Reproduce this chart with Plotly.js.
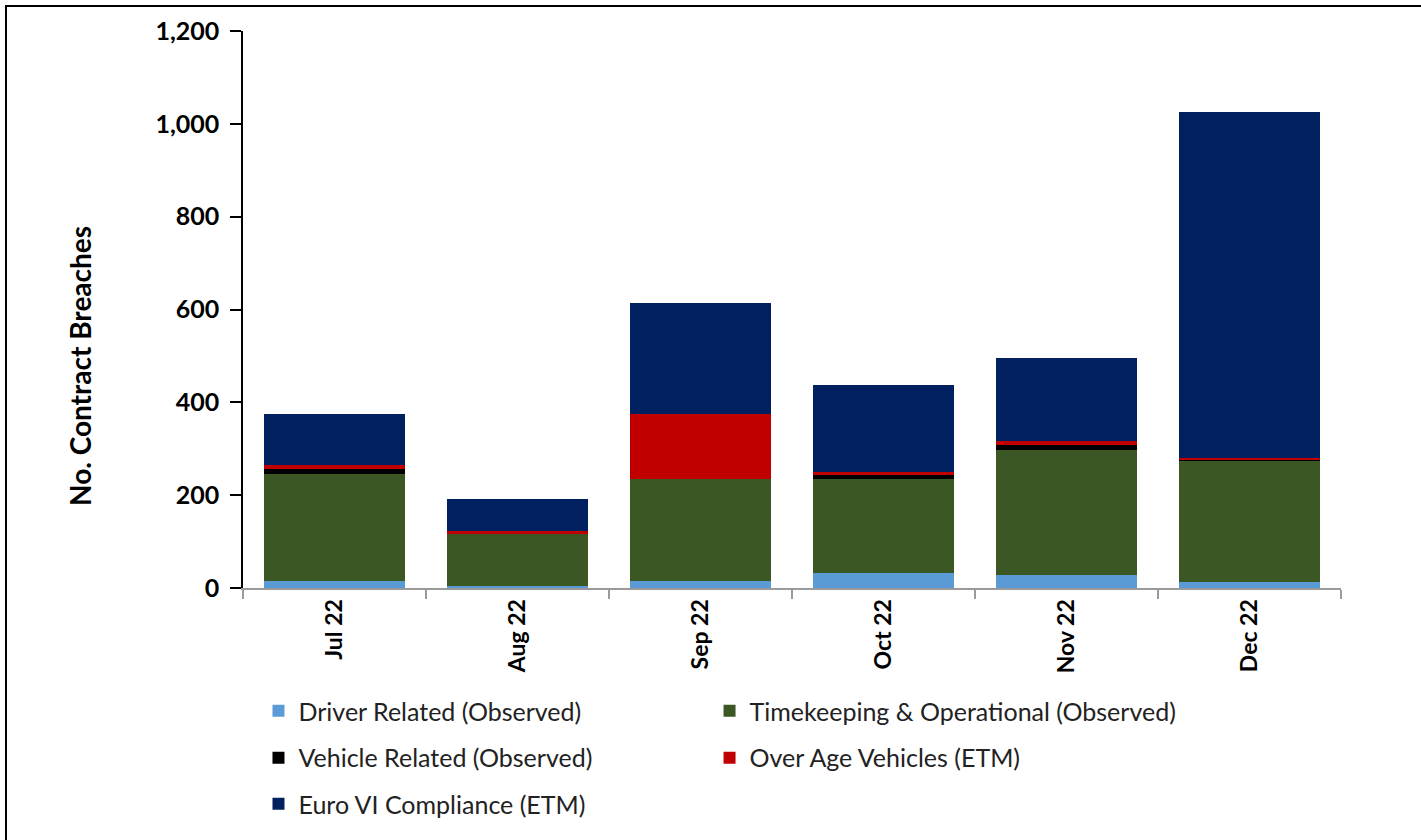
<!DOCTYPE html>
<html>
<head>
<meta charset="utf-8">
<script src="https://cdn.plot.ly/plotly-3.0.1.min.js"></script>
<style>
  html, body { margin: 0; padding: 0; background: #fff; }
  #chart { position: absolute; left: 0; top: 0; width: 1421px; height: 840px; }
  #frameTop { position: absolute; left: 5px; top: 5px; width: 1416px; height: 2px; background: #000; }
  #frameLeft { position: absolute; left: 5px; top: 5px; width: 2px; height: 835px; background: #000; }
</style>
</head>
<body>
<div id="chart"></div>
<div id="frameTop"></div>
<div id="frameLeft"></div>
<script>
const months = ["Jul 22", "Aug 22", "Sep 22", "Oct 22", "Nov 22", "Dec 22"];
const driverRelated = [15, 4, 16, 32, 27, 12];
const timekeeping = [230, 113, 218, 202, 270, 262];
const vehicleRelated = [11, 0, 0, 9, 11, 3];
const overAge = [9, 5, 140, 7, 8, 4];
const euroVI = [110, 70, 241, 188, 180, 745];

const seriesNames = [
  "Driver Related (Observed)",
  "Timekeeping & Operational (Observed)",
  "Vehicle Related (Observed)",
  "Over Age Vehicles (ETM)",
  "Euro VI Compliance (ETM)"
];
const seriesColors = ["#5B9BD5", "#3A5724", "#000000", "#C00000", "#002060"];
const seriesData = [driverRelated, timekeeping, vehicleRelated, overAge, euroVI];
const yTitle = "No. Contract Breaches";

const font = "Lato, 'Open Sans', sans-serif";

// legend grid: two columns, three rows (one legend per entry)
const legendCols = [0.0141, 0.4249, 0.0141, 0.4249, 0.0141];
const legendRows = [-0.221, -0.221, -0.305, -0.305, -0.388];
const legendIds = ["legend", "legend2", "legend3", "legend4", "legend5"];

const traces = seriesData.map((vals, i) => ({
  type: "bar",
  name: seriesNames[i],
  x: months,
  y: vals,
  marker: { color: seriesColors[i], line: { width: 0 } },
  legend: legendIds[i],
  hoverinfo: "x+y+name"
}));

const layout = {
  width: 1421,
  height: 840,
  margin: { l: 243, r: 80, t: 31, b: 252 },
  paper_bgcolor: "#ffffff",
  plot_bgcolor: "#ffffff",
  barmode: "stack",
  bargap: 0.23,
  font: { family: font, color: "#000" },
  xaxis: {
    type: "category",
    showline: true,
    linecolor: "#9a9a9a",
    linewidth: 2,
    ticks: "outside",
    tickson: "boundaries",
    ticklen: 9,
    tickwidth: 2,
    tickcolor: "#9a9a9a",
    tickangle: -90,
    tickfont: { family: font, size: 23, color: "#000", weight: "bold" },
    showgrid: false,
    zeroline: false
  },
  yaxis: {
    range: [0, 1200],
    dtick: 200,
    tickformat: ",",
    showline: true,
    linecolor: "#000",
    linewidth: 1.5,
    ticks: "outside",
    ticklen: 11,
    tickwidth: 1.5,
    tickcolor: "#000",
    ticklabelstandoff: 6,
    tickfont: { family: font, size: 25, color: "#000", weight: "bold" },
    showgrid: false,
    zeroline: false
  },
  annotations: [{
    text: yTitle,
    xref: "paper",
    yref: "paper",
    x: (80 - 243) / 1098,
    y: (588 - 366) / 557,
    xanchor: "center",
    yanchor: "middle",
    textangle: -90,
    showarrow: false,
    font: { family: font, size: 28, color: "#000", weight: "bold" }
  }],
  showlegend: true
};

legendIds.forEach((id, i) => {
  layout[id] = {
    orientation: "v",
    x: legendCols[i],
    y: legendRows[i],
    xanchor: "left",
    yanchor: "middle",
    font: { family: font, size: 25, color: "#222" },
    itemwidth: 30,
    bgcolor: "rgba(0,0,0,0)"
  };
});

Plotly.newPlot("chart", traces, layout, { displayModeBar: false, responsive: false });
</script>
</body>
</html>
